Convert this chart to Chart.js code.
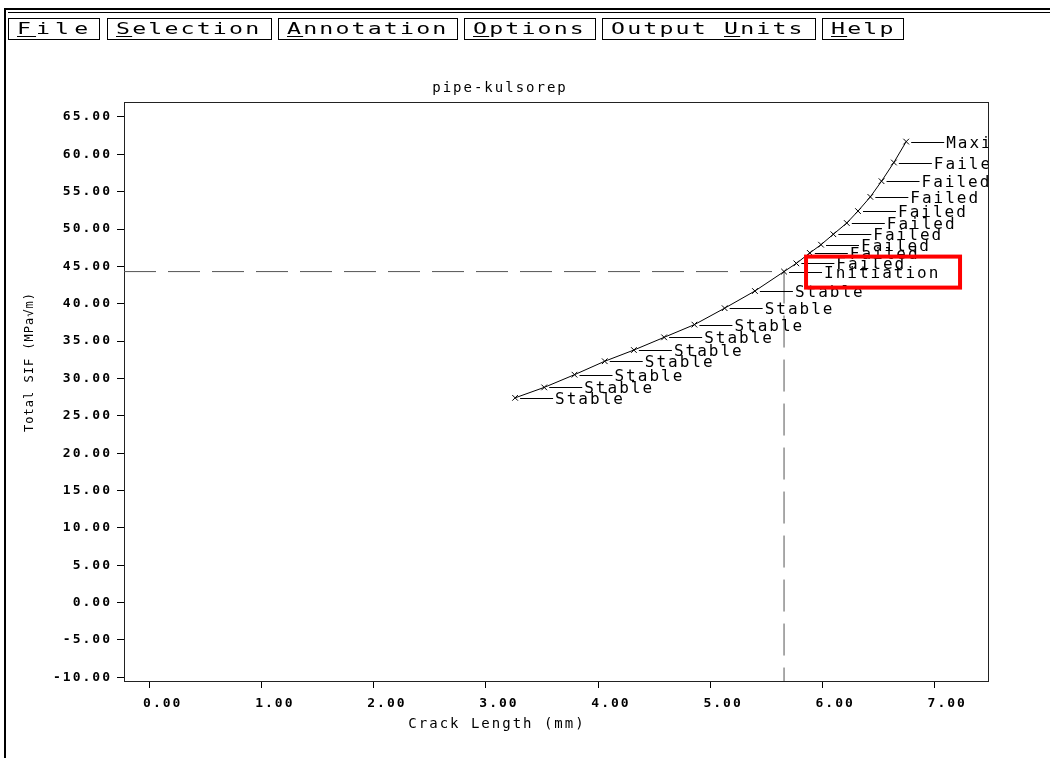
<!DOCTYPE html>
<html>
<head>
<meta charset="utf-8">
<title>pipe-kulsorep</title>
<script src="https://cdn.jsdelivr.net/npm/chart.js@4.4.1/dist/chart.umd.min.js"></script>
<style>
  html, body { margin: 0; padding: 0; background: #fff; }
  #wrap { position: relative; width: 1050px; height: 758px; overflow: hidden; background: #fff; }
  #sif { position: absolute; left: 0; top: 0; }
  .edge { position: absolute; background: #000; }
  .menu {
    position: absolute; top: 18px; height: 22px; box-sizing: border-box;
    border: 1px solid #000; padding-left: 8px; white-space: nowrap;
    font: 16px "DejaVu Sans Mono", monospace; line-height: 20px;
    color: #000; z-index: 2;
  }
  .menu span {
    display: inline-block; letter-spacing: 1.5px;
    transform: scaleX(1.45); transform-origin: 0 50%;
  }
  .menu u { text-underline-offset: 2px; }
</style>
</head>
<body>
<div id="wrap">
  <canvas id="sif" width="1050" height="758"></canvas>
  <div class="edge" style="left:4px; top:8px; width:1046px; height:2px;"></div>
  <div class="edge" style="left:8px; top:12px; width:1042px; height:1px;"></div>
  <div class="edge" style="left:4px; top:8px; width:2px; height:750px;"></div>
  <div class="menu" style="left:8px; width:92px;"><span style="letter-spacing:3.5px;"><u>F</u>ile</span></div>
  <div class="menu" style="left:107px; width:165px;"><span><u>S</u>election</span></div>
  <div class="menu" style="left:278px; width:180px;"><span><u>A</u>nnotation</span></div>
  <div class="menu" style="left:464px; width:132px;"><span><u>O</u>ptions</span></div>
  <div class="menu" style="left:602px; width:214px;"><span>Output <u>U</u>nits</span></div>
  <div class="menu" style="left:822px; width:82px;"><span><u>H</u>elp</span></div>
</div>
<script>
// crack growth steps: crack length (mm) vs total SIF (MPa√m)
const crackLength = [3.26, 3.52, 3.79, 4.06, 4.32, 4.59, 4.86, 5.13, 5.40, 5.66,
                     5.77, 5.89, 5.99, 6.10, 6.22, 6.32, 6.43, 6.53, 6.64, 6.75];
const totalSIF    = [27.4, 28.8, 30.5, 32.3, 33.8, 35.5, 37.2, 39.4, 41.7, 44.3,
                     45.4, 46.8, 47.9, 49.3, 50.8, 52.4, 54.3, 56.4, 58.9, 61.7];
const pointStatus = ['Stable', 'Stable', 'Stable', 'Stable', 'Stable', 'Stable', 'Stable', 'Stable', 'Stable',
                     'Initiation',
                     'Failed', 'Failed', 'Failed', 'Failed', 'Failed', 'Failed', 'Failed', 'Failed', 'Failed',
                     'Maximum'];

const xTicks = [0, 1, 2, 3, 4, 5, 6, 7];
const yTicks = [-10, -5, 0, 5, 10, 15, 20, 25, 30, 35, 40, 45, 50, 55, 60, 65];
const xRange = [-0.23, 7.48];
const yRange = [-10.5, 67.0];

const initIdx = pointStatus.indexOf('Initiation');
const FONT = '"DejaVu Sans Mono", monospace';

// canvas text spacing, the old plotter font is spread out
const spacing = {
  id: 'spacing',
  beforeDraw(chart) { chart.ctx.letterSpacing = '2px'; }
};

// frame around the plot area
const plotFrame = {
  id: 'plotFrame',
  beforeDatasetsDraw(chart) {
    const { ctx, chartArea: a } = chart;
    ctx.save();
    ctx.strokeStyle = '#222';
    ctx.lineWidth = 1;
    ctx.strokeRect(Math.round(a.left) + 0.5, Math.round(a.top) + 0.5,
                   Math.round(a.right - a.left), Math.round(a.bottom - a.top));
    ctx.restore();
  }
};

// leader line + status text next to every point
const statusLabels = {
  id: 'statusLabels',
  afterDatasetsDraw(chart) {
    const { ctx, chartArea: a } = chart;
    const pts = chart.getDatasetMeta(0).data;
    ctx.save();
    ctx.beginPath();
    ctx.rect(a.left, a.top, a.right - a.left, a.bottom - a.top);
    ctx.clip();
    ctx.font = '16px ' + FONT;
    ctx.letterSpacing = '2px';
    ctx.textBaseline = 'middle';
    ctx.fillStyle = '#000';
    ctx.strokeStyle = '#000';
    ctx.lineWidth = 1;
    pts.forEach((p, i) => {
      const y = Math.round(p.y) + 0.5;
      ctx.beginPath();
      ctx.moveTo(p.x + 5, y);
      ctx.lineTo(p.x + 38, y);
      ctx.stroke();
      ctx.fillText(pointStatus[i], p.x + 40, y + 1);
    });
    ctx.restore();
  }
};

// axis titles and the red box around the initiation label
const extras = {
  id: 'extras',
  afterDraw(chart) {
    const { ctx } = chart;
    ctx.save();
    ctx.fillStyle = '#000';
    ctx.textAlign = 'center';
    ctx.textBaseline = 'middle';

    ctx.font = '14px ' + FONT;
    ctx.letterSpacing = '2px';
    ctx.fillText('Crack Length (mm)', 497, 724);

    ctx.translate(30, 362);
    ctx.rotate(-Math.PI / 2);
    ctx.font = '12px ' + FONT;
    ctx.letterSpacing = '1px';
    ctx.fillText('Total SIF (MPa√m)', 0, 0);
    ctx.restore();

    const p = chart.getDatasetMeta(0).data[initIdx];
    ctx.save();
    ctx.strokeStyle = '#f00';
    ctx.lineWidth = 4;
    ctx.strokeRect(p.x + 22, p.y - 15, 154, 31);
    ctx.restore();
  }
};

const tickFont = { family: FONT, size: 13, weight: 'bold' };

new Chart(document.getElementById('sif'), {
  type: 'scatter',
  data: {
    datasets: [
      {
        label: 'Total SIF',
        data: crackLength.map((x, i) => ({ x: x, y: totalSIF[i] })),
        showLine: true,
        borderColor: '#000',
        borderWidth: 1,
        tension: 0,
        pointStyle: 'crossRot',
        pointRadius: 4,
        pointBorderWidth: 1,
        pointBorderColor: '#000',
        pointBackgroundColor: '#000'
      },
      {
        label: 'Initiation',
        data: [
          { x: xRange[0], y: totalSIF[initIdx] },
          { x: crackLength[initIdx], y: totalSIF[initIdx] },
          { x: crackLength[initIdx], y: yRange[0] }
        ],
        showLine: true,
        borderColor: '#555',
        borderWidth: 1,
        borderDash: [32, 12],
        pointRadius: 0
      }
    ]
  },
  options: {
    responsive: false,
    animation: false,
    devicePixelRatio: 1,
    layout: { padding: { top: 60, left: 12, right: 62, bottom: 0 } },
    plugins: {
      legend: { display: false },
      tooltip: { enabled: false },
      title: {
        display: true,
        text: 'pipe-kulsorep',
        color: '#000',
        font: { family: FONT, size: 14, weight: 'normal' },
        padding: { top: 19.6, bottom: 5.6 }
      }
    },
    scales: {
      x: {
        type: 'linear',
        min: xRange[0],
        max: xRange[1],
        afterBuildTicks: (s) => { s.ticks = xTicks.map(v => ({ value: v })); },
        afterFit: (s) => { s.height = 77; },
        grid: { drawOnChartArea: false, drawTicks: true, tickLength: 7, tickColor: '#000' },
        border: { display: false },
        ticks: {
          color: '#000',
          font: tickFont,
          padding: 8,
          labelOffset: 13,
          maxRotation: 0,
          callback: (v) => Number(v).toFixed(2)
        }
      },
      y: {
        type: 'linear',
        min: yRange[0],
        max: yRange[1],
        afterBuildTicks: (s) => { s.ticks = yTicks.map(v => ({ value: v })); },
        afterFit: (s) => { s.width = 112; },
        grid: { drawOnChartArea: false, drawTicks: true, tickLength: 7, tickColor: '#000' },
        border: { display: false },
        ticks: {
          color: '#000',
          font: tickFont,
          padding: 5,
          callback: (v) => Number(v).toFixed(2)
        }
      }
    }
  },
  plugins: [spacing, plotFrame, statusLabels, extras]
});
</script>
</body>
</html>
